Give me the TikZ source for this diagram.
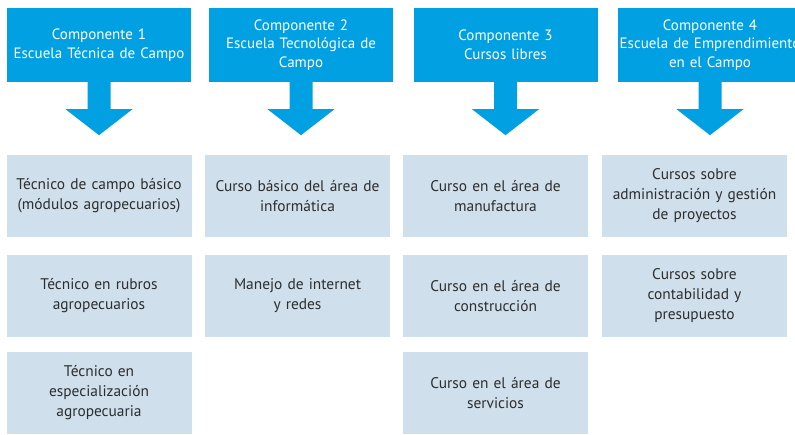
\documentclass[tikz,border=0pt]{standalone}
\usepackage{fontspec}
\setmainfont{PT Sans}
\definecolor{hblue}{RGB}{0,160,227}
\definecolor{lbox}{RGB}{207,223,235}
\definecolor{txt}{RGB}{45,45,45}
\begin{document}
\begin{tikzpicture}[x=1pt,y=-1pt,
  head/.style={fill=hblue,text=white,minimum width=184pt,minimum height=74pt,inner sep=0pt,align=center,text width=184pt,font=\fontsize{15}{18.5}\selectfont},
  item/.style={fill=lbox,text=txt,minimum width=185pt,minimum height=82pt,inner sep=0pt,align=center,text width=185pt,font=\fontsize{15.4}{20}\selectfont},
  darrow/.style={fill=hblue}]
\clip (0,0) rectangle (795,435);
\fill[white] (0,0) rectangle (795,435);
\node[head] (h1) at (99,45) {Componente 1\\Escuela Técnica de Campo};
\node[head] (h2) at (301,45) {Componente 2\\Escuela Tecnológica de\\Campo};
\node[head] (h3) at (505.5,45) {Componente 3\\Cursos libres};
\node[head] (h4) at (710,45) {Componente 4\\\makebox[0pt][c]{Escuela de Emprendimiento}\\en el Campo};
\foreach \h in {h1,h2,h3,h4}{
  \fill[darrow] (\h.south) ++(-11.5,0) -- ++(0,27) -- ++(-22,0) -- ++(33.5,26) -- ++(33.5,-26) -- ++(-22,0) -- ++(0,-27) -- cycle;
}
\node[item] (a1) at (99,196) {Técnico de campo básico\\(módulos agropecuarios)};
\node[item] (a2) at (99,296) {Técnico en rubros\\agropecuarios};
\node[item] (a3) at (99,393) {Técnico en\\especialización\\agropecuaria};
\node[item] (b1) at (297.5,196) {Curso básico del área de\\informática};
\node[item] (b2) at (297.5,296) {Manejo de internet\\y redes};
\node[item] (c1) at (495.5,196) {Curso en el área de\\manufactura};
\node[item] (c2) at (495.5,296) {Curso en el área de\\construcción};
\node[item] (c3) at (495.5,393) {Curso en el área de\\servicios};
\node[item] (d1) at (694.5,196) {Cursos sobre\\administración y gestión\\de proyectos};
\node[item] (d2) at (694.5,296) {Cursos sobre\\contabilidad y\\presupuesto};
\end{tikzpicture}
\end{document}
